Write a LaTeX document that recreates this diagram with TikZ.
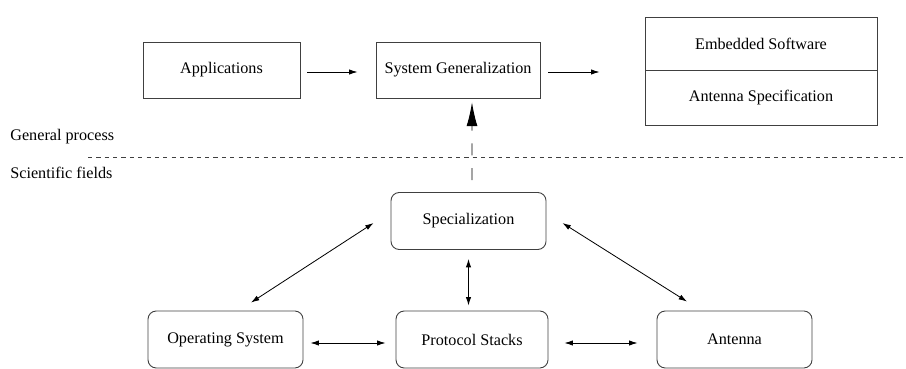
\documentclass[tikz,border=0pt]{standalone}
\usepackage{fontspec}
\setmainfont{Liberation Serif}
\usetikzlibrary{arrows.meta,calc}
\begin{document}
\begin{tikzpicture}[x=0.55pt,y=-0.55pt,
		font=\fontsize{8.9}{10.7}\selectfont,
		box/.style={draw=black!75,line width=0.5pt,inner sep=0pt,minimum width=#1*0.55pt},
		process/.style={box=#1,minimum height=56*0.55pt},
		field/.style={box=155,minimum height=57*0.55pt,rounded corners=4.5pt},
		link/.style={line width=0.45pt,-{Latex[length=4.6pt,width=2.9pt]}},
		both/.style={link,{Latex[length=4.6pt,width=2.9pt]}-{Latex[length=4.6pt,width=2.9pt]}}]
		\useasboundingbox (0,0) rectangle (906,369);

		% general process
		\node[process=157] (apps) at (221.5,70) {Applications};
		\node[process=164] (sysgen) at (458,70) {System Generalization};
		\node[box=232,minimum height=53*0.55pt] (embsw) at (761,43.5) {Embedded Software};
		\node[box=232,minimum height=55*0.55pt] (antspec) at (761,97.5) {Antenna Specification};

		\draw[link] ($(apps.east)+(7,2)$) -- ($(sysgen.west)+(-18,2)$);
		\draw[link] ($(sysgen.east)+(8,2)$) -- ($(sysgen.east -| embsw.west)+(-45,2)$);

		% separation
		\node[anchor=west,inner sep=0pt] (general) at (10,137) {General process};
		\node[anchor=west,inner sep=0pt] (scientific) at (10,173) {Scientific fields};
		\coordinate (sepL) at (88,157);
		\coordinate (sepR) at (906,157);
		\draw[black!75,line width=0.45pt,dash pattern=on 2.3pt off 2.3pt] (sepL) -- (sepR);

		% scientific fields
		\node[field] (spec) at (468.5,221) {Specialization};
		\node[field] (os) at (225.5,339.5) {Operating System};
		\node[field,minimum width=152*0.55pt] (ps) at (472,339.5) {Protocol Stacks};
		\node[field] (ant) at (734.5,339.5) {Antenna};

		\draw[line width=0.5pt,dash pattern=on 6.6pt off 7pt,-{Latex[length=13pt,width=6pt]}]
			($(spec.north)+(3.5,-12)$) -- ($(sysgen.south)+(14,4)$);

		\draw[both] ($(spec.west)+(-17,2)$) -- ($(os.north)+(25.5,-8)$);
		\draw[both] ($(spec.south)+(0,9)$) -- ($(spec.south |- ps.north)+(0,-5)$);
		\draw[both] ($(spec.east)+(16,2)$) -- ($(ant.north)+(-47.5,-9)$);
		\draw[both] ($(os.east)+(7,3.5)$) -- ($(ps.west)+(-10,3.5)$);
		\draw[both] ($(ps.east)+(16,3.5)$) -- ($(ant.west)+(-19,3.5)$);
	\end{tikzpicture}
\end{document}
